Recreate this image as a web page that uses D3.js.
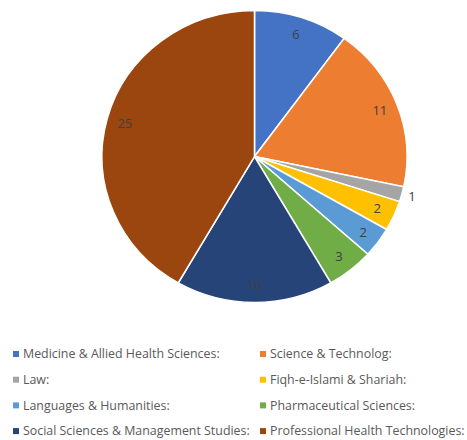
<!DOCTYPE html>
<html>
<head>
<meta charset="utf-8">
<script src="https://cdn.jsdelivr.net/npm/d3@7"></script>
<style>
  body { margin: 0; background: #fff; }
  svg { display: block; }
  text { font-family: "Open Sans", "Liberation Sans", Arial, sans-serif; }
</style>
</head>
<body>
<svg id="chart" width="467" height="440"></svg>
<script>
// データ
var categories = [
  "Medicine & Allied Health Sciences:",
  "Science & Technolog:",
  "Law:",
  "Fiqh-e-Islami & Shariah:",
  "Languages & Humanities:",
  "Pharmaceutical Sciences:",
  "Social Sciences & Management Studies:",
  "Professional Health Technologies:"
];
var values = [6, 11, 1, 2, 2, 3, 10, 25];
var colors = ["#4472C4", "#ED7D31", "#A5A5A5", "#FFC000", "#5B9BD5", "#70AD47", "#264478", "#9A460E"];

var svg = d3.select("#chart");

var cx = 254.5, cy = 156.5;
var radius = 146;
var sx = 1.045; // 横に少し伸びている

var data = categories.map(function(c, i){
  return { name: c, value: values[i], color: colors[i] };
});

var pie = d3.pie()
  .sort(null)
  .value(function(d){ return d.value; });

var arcs = pie(data);

var arc = d3.arc().innerRadius(0).outerRadius(radius);
var labelArc = d3.arc().innerRadius(radius * 0.88).outerRadius(radius * 0.88);
var outArc = d3.arc().innerRadius(radius + 10).outerRadius(radius + 10);

var g = svg.append("g")
  .attr("transform", "translate(" + cx + "," + cy + ") scale(" + sx + ",1)");

g.selectAll("path")
  .data(arcs)
  .enter()
  .append("path")
  .attr("d", arc)
  .attr("fill", function(d){ return d.data.color; })
  .attr("stroke", "#fff")
  .attr("stroke-width", 1.5);

// ラベル
var lg = svg.append("g").attr("transform", "translate(" + cx + "," + cy + ")");
lg.selectAll("text")
  .data(arcs)
  .enter()
  .append("text")
  .attr("x", function(d){
    var c = d.data.value === 1 ? outArc.centroid(d) : labelArc.centroid(d);
    return c[0] * sx;
  })
  .attr("y", function(d){
    var c = d.data.value === 1 ? outArc.centroid(d) : labelArc.centroid(d);
    return c[1];
  })
  .attr("dy", "0.35em")
  .attr("text-anchor", "middle")
  .attr("font-size", "13px")
  .attr("fill", "#404040")
  .text(function(d){ return d.data.value; });

// 凡例
var legendX = [13, 260];
var legendY0 = 354, legendStep = 25.7;
var legend = svg.append("g");
var items = legend.selectAll("g")
  .data(data)
  .enter()
  .append("g")
  .attr("transform", function(d, i){
    return "translate(" + legendX[i % 2] + "," + (legendY0 + Math.floor(i / 2) * legendStep) + ")";
  });

items.append("rect")
  .attr("x", 0)
  .attr("y", -3)
  .attr("width", 6)
  .attr("height", 6)
  .attr("fill", function(d){ return d.color; });

items.append("text")
  .attr("x", 10)
  .attr("dy", "0.35em")
  .attr("font-size", "12.4px")
  .attr("fill", "#595959")
  .text(function(d){ return d.name; });
</script>
</body>
</html>
